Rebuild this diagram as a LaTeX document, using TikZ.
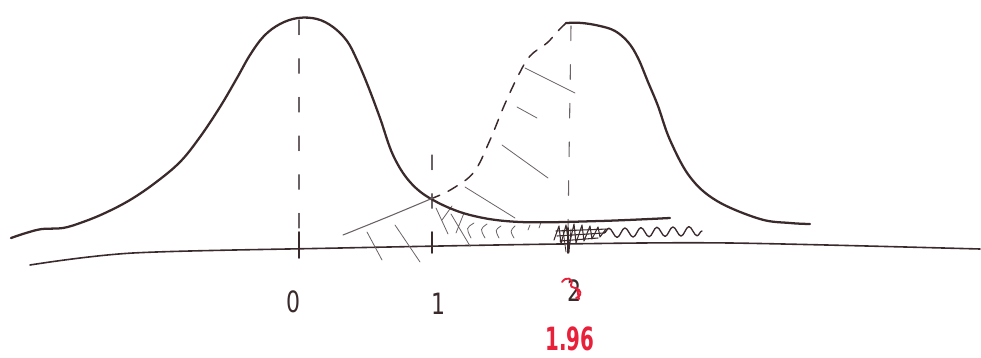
\documentclass[tikz,border=0pt]{standalone}
\usepackage{fontspec}
\setmainfont{DejaVu Sans}
\usetikzlibrary{decorations.pathmorphing}
\definecolor{ink}{HTML}{3A2A2C}
\definecolor{pencil}{HTML}{6A6264}
\definecolor{redink}{HTML}{E8203A}
\tikzset{
  curve/.style={draw=ink, line width=1.7pt, line cap=round, line join=round},
  thinline/.style={draw=ink, line width=1.2pt, line cap=round},
  guide/.style={draw=pencil, line width=0.8pt, dash pattern=on 11pt off 18pt, line cap=round},
  dashcurve/.style={draw=ink, line width=1.1pt, dash pattern=on 8pt off 7pt, line cap=round},
  hatch/.style={draw=pencil, line width=0.6pt, line cap=round},
  scribble/.style={draw=ink, line width=0.8pt, line cap=round, line join=round},
  tickmark/.style={draw=ink, line width=1.4pt, line cap=round},
  lbl/.style={text=ink, font=\fontsize{22}{22}\selectfont, inner sep=0pt, xscale=0.75},
  redlbl/.style={text=redink, font=\fontsize{24}{24}\selectfont\bfseries, inner sep=0pt, xscale=0.62}
}
\begin{document}
\begin{tikzpicture}[x=0.75pt,y=-0.75pt]
\useasboundingbox (0,0) rectangle (981,357);
% coordinates
\coordinate (p0) at (299,20);
\coordinate (p2) at (571,26);
\coordinate (t0) at (299,232);
\coordinate (t1) at (432,232);
\coordinate (t2) at (568,228);
\coordinate (g1) at (432,155);
% axis
\draw[thinline] plot[smooth, tension=0.5] coordinates {(30,265) (133,253) (340,248) (560,244) (730,243) (980,249)};
% dashed guides
\draw[guide] (p0) -- (t0);
\draw[guide] (p2) -- (t2);
\draw[guide] (g1) -- (t1);
% hatching inside right curve
\draw[hatch] (525,68) -- (575,93);
\draw[hatch] (517,107) -- (537,118);
\draw[hatch] (502,145) -- (548,178);
\draw[hatch] (465,187) -- (515,218);
% hatching under axis
\draw[hatch] (367,232) -- (382,260);
\draw[hatch] (395,225) -- (420,262);
\draw[hatch] (436,208) -- (448,234) (442,220) -- (452,206);
\draw[hatch] (451,214) -- (470,246) (456,233) -- (464,213);
\draw[hatch] (474,223) .. controls (466,228) .. (471,238);
\draw[hatch] (487,224) .. controls (480,229) .. (485,238);
\draw[hatch] (501,226) .. controls (495,230) .. (499,238);
\draw[hatch] (515,226) .. controls (510,231) .. (514,238);
\draw[hatch] (530,225) -- (528,230);
\draw[hatch] (541,222) -- (539,228);
% dense scribble near 2
\draw[scribble] (554,240) -- (559,226) -- (561,244) -- (566,225) -- (569,246) -- (574,224) -- (576,243) -- (582,225) -- (584,241) -- (590,226) -- (592,239) -- (598,227) -- (600,237) -- (606,229);
\draw[scribble] (556,231) -- (608,229) (557,236) -- (604,233) (560,241) -- (598,238);
\draw[scribble, line width=1pt, decorate, decoration={snake, amplitude=3.5pt, segment length=12pt}] (604,233) -- (702,231);
% left curve
\draw[curve] plot[smooth, tension=0.6] coordinates {(11,238) (26,233) (42,229) (63,228) (83,222) (105,213) (130,200) (155,183) (180,162) (200,137) (220,107) (237,78) (250,55) (264,36) (280,24) (298,18) (317,19) (333,27) (347,41) (357,60) (368,86) (380,118) (393,155) (410,182) (433,200) (470,215) (520,222) (600,221) (670,218)};
% right curve, solid right half
\draw[curve] plot[smooth, tension=0.6] coordinates {(566,23) (582,23) (600,26) (615,31) (628,42) (638,58) (648,82) (658,106) (670,140) (690,177) (717,201) (760,219) (790,223) (810,224)};
% right curve, dashed left half
\draw[dashcurve] plot[smooth, tension=0.6] coordinates {(566,23) (557,32) (547,43) (530,56) (518,76) (504,106) (490,140) (474,172) (452,189) (433,198)};
\draw[hatch, line width=0.8pt] plot[smooth, tension=0.5] coordinates {(433,198) (390,216) (343,235)};
% ticks
\draw[tickmark] (t0) -- ++(0,26);
\draw[tickmark] (t1) -- ++(0,21);
\draw[tickmark] (t2) -- ++(0,25);
\draw[scribble, line width=0.6pt] (563,230) -- (566,252) (571,229) -- (569,253);
% labels
\node[lbl] (l0) at (293,302) {0};
\node[lbl] (l1) at (438,304) {1};
\node[lbl] (l2) at (574,291) {2};
\draw[draw=redink, line width=1.4pt, line cap=round, line join=round] (562,282) .. controls (566,276) and (574,278) .. (571,285) .. controls (570,288) and (576,287) .. (579,290) .. controls (582,293) and (580,297) .. (576,298) (577,288) -- (579,299);
\node[redlbl] (l196) at (570,339) {1.96};
\end{tikzpicture}
\end{document}
